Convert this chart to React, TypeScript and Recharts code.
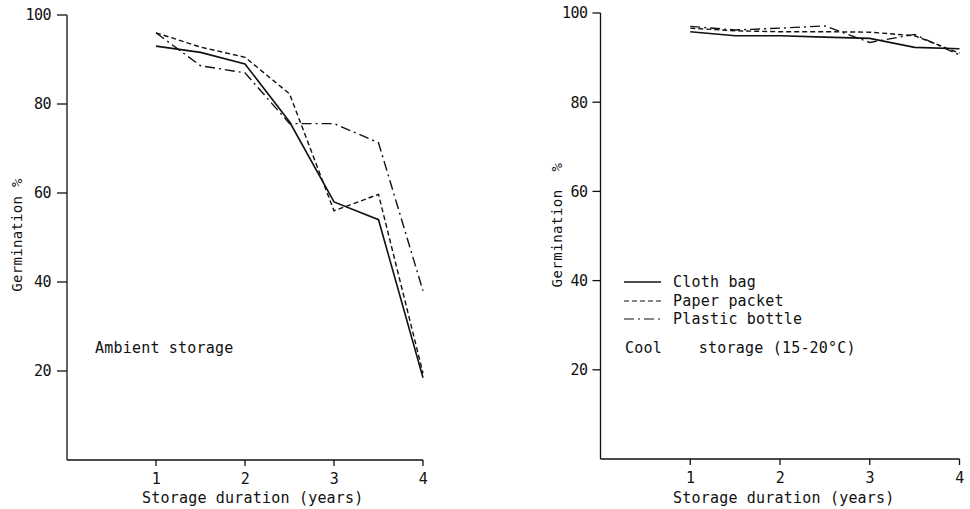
import React from 'react';
import { LineChart, Line, XAxis, YAxis } from 'recharts';

const years = [1, 1.5, 2, 2.5, 3, 3.5, 4];
const ambientCloth = [93, 91.6, 89, 76, 58, 54, 18.5];
const ambientPaper = [96, 92.8, 90.5, 82.3, 56, 59.7, 19.5];
const ambientPlastic = [96, 88.6, 87, 75.6, 75.6, 71.3, 38];
const coolCloth = [95.8, 94.9, 94.9, 94.6, 94.3, 92.3, 92];
const coolPaper = [96.6, 96, 95.8, 95.8, 95.7, 94.9, 91];
const coolPlastic = [97, 96.2, 96.6, 97.1, 93.4, 95.2, 90.6];
const xTicks = [1, 2, 3, 4];
const yTicks = [20, 40, 60, 80, 100];

const seriesNames = ['Cloth bag', 'Paper packet', 'Plastic bottle'];
const dashes = [undefined, '5 3', '10 4 2 4'];

const build = (a: number[], b: number[], c: number[]) =>
  years.map((y, i) => ({ year: y, cloth: a[i], paper: b[i], plastic: c[i] }));

const ambientData = build(ambientCloth, ambientPaper, ambientPlastic);
const coolData = build(coolCloth, coolPaper, coolPlastic);

const FONT = '"DejaVu Sans Mono", "Liberation Mono", monospace';
const INK = '#111';

const textStyle: React.CSSProperties = {
  position: 'absolute',
  fontFamily: FONT,
  fontSize: 15,
  letterSpacing: 0.2,
  color: INK,
  whiteSpace: 'pre',
  lineHeight: '16px',
};

const tickStyle = { fill: INK, fontFamily: FONT, fontSize: 15, letterSpacing: -0.5 };

function Panel({ data, margin, tickSize, tickMargin }: any) {
  return (
    <LineChart width={485} height={509} data={data} margin={margin}>
      <XAxis
        dataKey="year"
        type="number"
        domain={[0, 4]}
        ticks={xTicks}
        height={30}
        tickSize={6}
        tickMargin={7}
        stroke={INK}
        strokeWidth={1.3}
        tick={tickStyle}
      />
      <YAxis
        type="number"
        domain={[0, 100]}
        ticks={yTicks}
        width={60}
        tickSize={tickSize}
        tickMargin={tickMargin}
        stroke={INK}
        strokeWidth={1.3}
        tick={tickStyle}
      />
      <Line dataKey="cloth" stroke={INK} strokeWidth={1.6} dot={false} isAnimationActive={false} />
      <Line dataKey="paper" stroke={INK} strokeWidth={1.4} strokeDasharray={dashes[1]} dot={false} isAnimationActive={false} />
      <Line dataKey="plastic" stroke={INK} strokeWidth={1.4} strokeDasharray={dashes[2]} dot={false} isAnimationActive={false} />
    </LineChart>
  );
}

export default function App() {
  return (
    <div style={{ position: 'absolute', left: 0, top: 0, width: 970, height: 509, background: '#fff', overflow: 'hidden' }}>
      <div style={{ position: 'absolute', left: 0, top: 0 }}>
        <Panel data={ambientData} margin={{ top: 15, left: 7, right: 62, bottom: 19 }} tickSize={10} tickMargin={6} />
      </div>
      <div style={{ position: 'absolute', left: 485, top: 0 }}>
        <Panel data={coolData} margin={{ top: 13, left: 55.5, right: 10.5, bottom: 20 }} tickSize={8} tickMargin={5} />
      </div>

      {/* Axis titles */}
      <div style={{ ...textStyle, left: 142, top: 490 }}>Storage duration (years)</div>
      <div style={{ ...textStyle, left: 673, top: 490 }}>Storage duration (years)</div>
      <div style={{ ...textStyle, left: 17, top: 235, transform: 'translate(-50%, -50%) rotate(-90deg)', fontSize: 14, letterSpacing: 0.3 }}>Germination %</div>
      <div style={{ ...textStyle, left: 557, top: 225, transform: 'translate(-50%, -50%) rotate(-90deg)', fontSize: 14, letterSpacing: 0.5 }}>Germination  %</div>

      {/* Annotations */}
      <div style={{ ...textStyle, left: 95, top: 340 }}>Ambient storage</div>
      <div style={{ ...textStyle, left: 625, top: 340 }}>{'Cool    storage (15-20°C)'}</div>

      {/* Legend */}
      {seriesNames.map((name, i) => (
        <div key={name} style={{ position: 'absolute', left: 624, top: 274 + i * 18.5, height: 16, display: 'flex', alignItems: 'center' }}>
          <svg width={38} height={16} style={{ display: 'block' }}>
            <line x1={0} y1={8} x2={37} y2={8} stroke={INK} strokeWidth={i === 0 ? 1.6 : 1.2} strokeDasharray={dashes[i]} />
          </svg>
          <span style={{ ...textStyle, position: 'static', marginLeft: 11 }}>{name}</span>
        </div>
      ))}
    </div>
  );
}
